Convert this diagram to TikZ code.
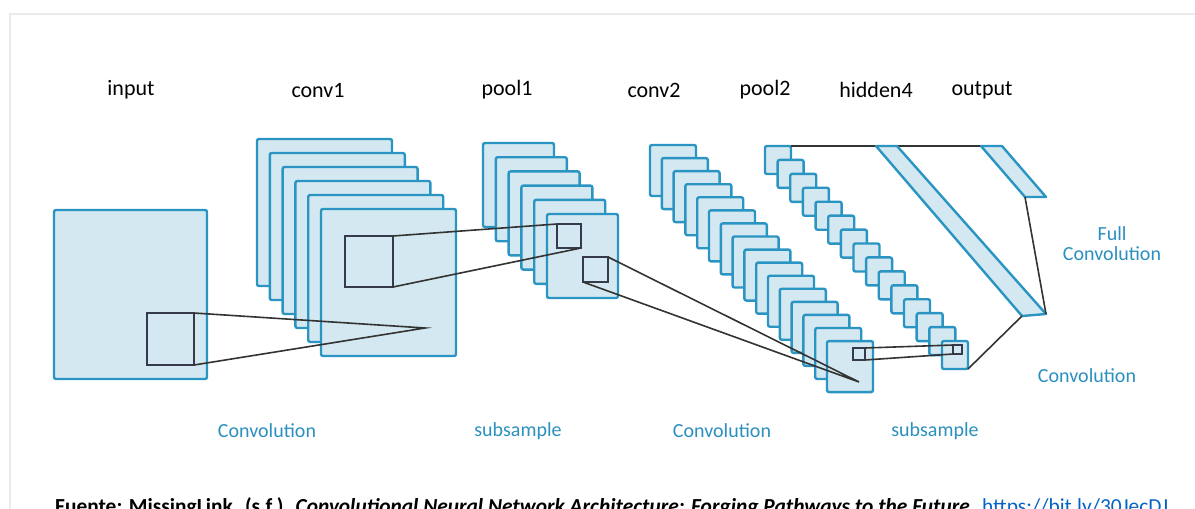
\documentclass[tikz,border=0pt]{standalone}
\usepackage{fontspec}
\setmainfont{Carlito}
\definecolor{fmfill}{HTML}{D3E8F0}
\definecolor{fmdraw}{HTML}{2A95C2}
\definecolor{darksq}{HTML}{353B4B}
\definecolor{lbl}{HTML}{2B90BF}
\definecolor{lnk}{HTML}{0563C1}
\begin{document}
\begin{tikzpicture}[x=1pt,y=-1pt,
  fm/.style={draw=fmdraw, fill=fmfill, line width=2.4pt, rounded corners=2pt, anchor=north west, inner sep=0pt, outer sep=0pt},
  sq/.style={draw=darksq, line width=2.2pt, anchor=north west, inner sep=0pt, outer sep=0pt},
  conn/.style={draw=black!80, line width=1.6pt},
  para/.style={draw=fmdraw, fill=fmfill, line width=2.4pt, line join=round},
  ttl/.style={font=\fontsize{22}{24}\selectfont, text=black},
  op/.style={font=\fontsize{20}{23}\selectfont, text=lbl, align=center}]
\useasboundingbox (0,0) rectangle (1195,509);
\clip (0,0) rectangle (1195,509);
\fill[white] (0,0) rectangle (1195,509);
% card edge
\draw[black!8, line width=1.5pt] (10,509) -- (10,14) -- (1195,14);
% input
\node[fm, minimum width=153pt, minimum height=169pt] (in) at (54,210) {};
% conv1
\foreach \i in {0,...,5}
  \node[fm, minimum width=135pt, minimum height=147pt] (c1-\i) at ({257+12.8*\i},{139+14*\i}) {};
% pool1
\foreach \i in {0,...,5}
  \node[fm, minimum width=71pt, minimum height=84pt] (p1-\i) at ({483+12.8*\i},{143+14.2*\i}) {};
% conv2
\foreach \i in {0,...,15}
  \node[fm, minimum width=46pt, minimum height=51pt] (c2-\i) at ({650+11.8*\i},{145+13.07*\i}) {};
% pool2
\foreach \i in {0,...,14}
  \node[fm, minimum width=26pt, minimum height=28pt] (p2-\i) at ({765+12.64*\i},{146+13.93*\i}) {};
% hidden4 / output corners
\coordinate (hA) at (876,146);
\coordinate (hB) at (897,146);
\coordinate (hC) at (1046,314);
\coordinate (hD) at (1022,316);
\coordinate (oA) at (981,146);
\coordinate (oB) at (1002,146);
\coordinate (oC) at (1046,197);
\coordinate (oD) at (1025,197);
\draw[conn] (p2-0.north east) -- (oA);
\draw[para] (hA) -- (hB) -- (hC) -- (hD) -- cycle;
\draw[para] (oA) -- (oB) -- (oC) -- (oD) -- cycle;
% small squares
\node[sq, minimum width=47pt, minimum height=52pt] (insq) at (147,313) {};
\node[sq, minimum width=48pt, minimum height=51pt] (c1sq) at (345,236) {};
\node[sq, minimum width=24pt, minimum height=24pt] (p1sqA) at (557,224) {};
\node[sq, minimum width=25pt, minimum height=25pt] (p1sqB) at (583,257) {};
\node[sq, minimum width=12pt, minimum height=12pt, line width=1.8pt] (c2sq) at (853,348) {};
\node[sq, minimum width=9pt, minimum height=9pt, line width=1.8pt] (p2sq) at (953,345) {};
\coordinate (c1pt) at (425,328);
\coordinate (c2pt) at (859,382);
% connectors
\draw[conn] (insq.north east) -- (c1pt) -- (insq.south east);
\draw[conn] (c1sq.north east) -- (p1sqA.north west);
\draw[conn] (c1sq.south east) -- (p1sqA.south east);
\draw[conn] (p1sqB.north east) -- (c2pt) -- (p1sqB.south west);
\draw[conn] (c2sq.north east) -- (p2sq.north west);
\draw[conn] (c2sq.south east) -- (p2sq.south west);
\draw[conn] (oD) -- (hC);
\draw[conn] (hD) -- (p2-14.south east);
% titles
\node[ttl] (tin) at (131,90) {input};
\node[ttl] (tc1) at (318,90) {conv1};
\node[ttl] (tp1) at (507,90) {pool1};
\node[ttl] (tc2) at (654,90) {conv2};
\node[ttl] (tp2) at (765,90) {pool2};
\node[ttl] (th4) at (876,90) {hidden4};
\node[ttl] (tout) at (982,90) {output};
% operation labels
\node[op] (l1) at (267,431) {Convolution};
\node[op] (l2) at (518,431) {subsample};
\node[op] (l3) at (722,431) {Convolution};
\node[op] (l4) at (935,431) {subsample};
\node[op] (l5) at (1087,376) {Convolution};
\node[op, font=\fontsize{20}{20}\selectfont] (l6) at (1112,244) {Full\\Convolution};
% caption (cut off at the bottom edge, as in the reference)
\node[anchor=base west, inner sep=0pt, font=\fontsize{21.4}{24}\selectfont\bfseries] (cap) at (55,513)
  {Fuente: MissingLink. (s.f.). \textit{Convolutional Neural Network Architecture: Forging Pathways to the Future.} \textmd{\color{lnk}https://bit.ly/30JecDJ}};
\end{tikzpicture}
\end{document}
